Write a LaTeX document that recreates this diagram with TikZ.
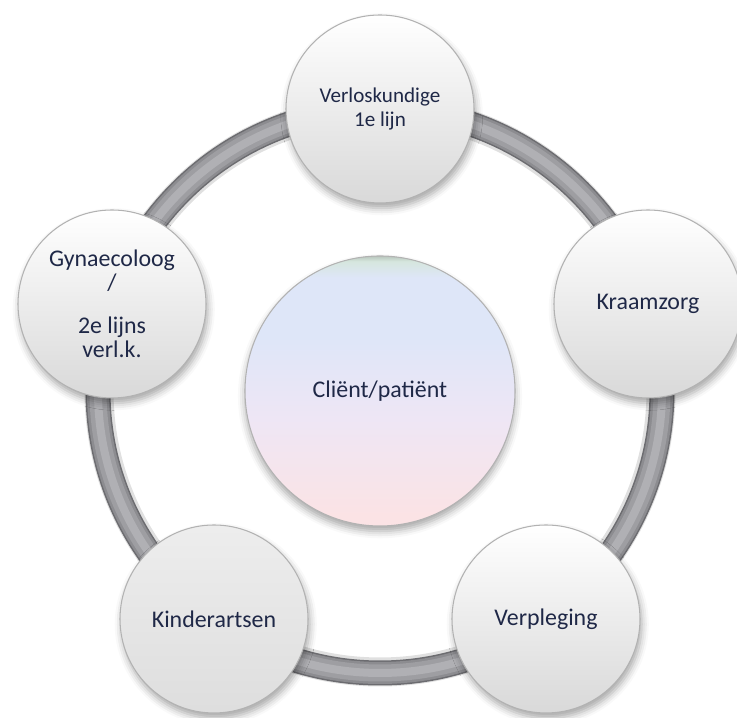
\documentclass[tikz,border=0pt]{standalone}
\usepackage{fontspec}
\setmainfont{Carlito}
\usetikzlibrary{shadows.blur}

\definecolor{txtnavy}{RGB}{31,40,71}
\definecolor{ringdark}{RGB}{108,108,112}
\definecolor{ringmid}{RGB}{140,140,144}
\definecolor{ringbody}{RGB}{158,158,162}
\definecolor{ringlight}{RGB}{176,176,180}
\definecolor{clientpink}{RGB}{251,227,229}
\definecolor{clientlilac}{RGB}{238,230,245}
\definecolor{clientblue}{RGB}{222,230,248}
\definecolor{clientgreen}{RGB}{214,230,222}
\definecolor{clientrim}{RGB}{184,198,188}
\pgfdeclareverticalshading{clientglass}{100bp}{color(0bp)=(clientpink); color(27bp)=(clientpink); color(45bp)=(clientlilac); color(60bp)=(clientblue); color(71bp)=(clientblue); color(74bp)=(clientgreen); color(75bp)=(clientrim); color(100bp)=(clientrim)}

\begin{document}
\begin{tikzpicture}[
    ball/.style={circle, draw=black!30, line width=0.6pt,
        top color=white, bottom color=black!15,
        minimum size=3.76cm, inner sep=2pt, align=center,
        text=txtnavy, font=\fontsize{13.6}{13.4}\selectfont,
        blur shadow={shadow xshift=1pt, shadow yshift=-3pt,
            shadow blur radius=4pt, shadow opacity=35}},
    greyball/.style={ball, top color=black!7, bottom color=black!13},
    client/.style={circle, draw=black!30, line width=0.6pt,
        shading=clientglass, minimum size=5.4cm, align=center,
        text=txtnavy, font=\fontsize{13.6}{13.4}\selectfont,
        blur shadow={shadow xshift=0pt, shadow yshift=-3pt,
            shadow blur radius=4pt, shadow opacity=35}},
    ring/.style={line width=0.5cm, ringdark}
]
    \useasboundingbox (0,0) rectangle (14.74,14.36);
    \node[client] (client) at (7.6,6.54) {Cliënt/patiënt};
    % the tube round the client
    \draw[line width=0.58cm, black!12] (client.center) circle (5.62cm);
    \draw[ring] (client.center) circle (5.64cm);
    \draw[line width=0.44cm, ringmid] (client.center) circle (5.64cm);
    \draw[line width=0.34cm, ringbody] (client.center) circle (5.64cm);
    \draw[line width=0.16cm, ringlight] (client.center) circle (5.64cm);
    \node[ball, font=\fontsize{12}{13.4}\selectfont] (verlos) at (7.6,12.18)
        {Verloskundige\\1e lijn};
    \node[ball] (kraam) at (12.96,8.28) {Kraamzorg};
    \node[ball] (verpl) at (10.92,1.98) {Verpleging};
    \node[greyball] (kinder) at (4.28,1.98) {Kinderartsen};
    \node[ball] (gyn) at (2.24,8.28) {Gynaecoloog\\/\\[0.4cm]2e lijns\\verl.k.};
\end{tikzpicture}
\end{document}
